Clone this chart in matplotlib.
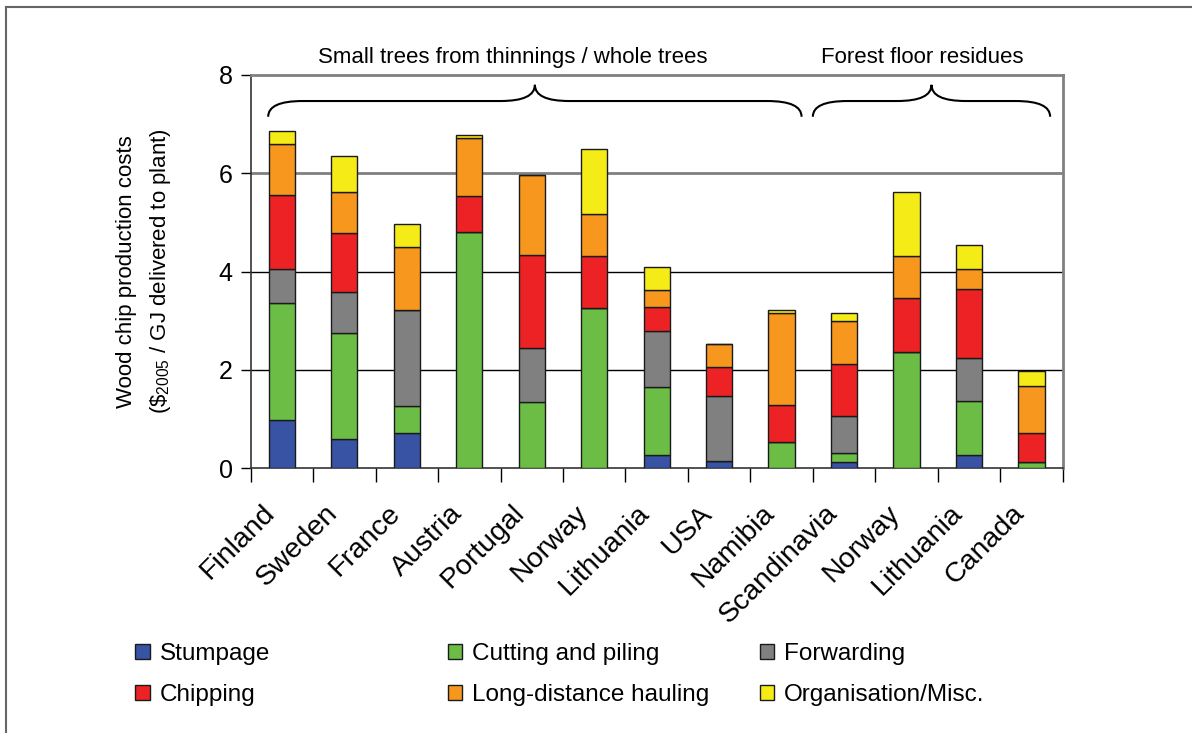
import matplotlib.pyplot as plt
import matplotlib.transforms as mtransforms
import numpy as np
from matplotlib.path import Path
from matplotlib.patches import PathPatch, Patch
from matplotlib.lines import Line2D

plt.rcParams["font.family"] = ["Liberation Sans", "DejaVu Sans"]
plt.rcParams["mathtext.fontset"] = "custom"
plt.rcParams["mathtext.rm"] = "Liberation Sans"
plt.rcParams["mathtext.it"] = "Liberation Sans:italic"

# Countries (two groups: thinnings / whole trees, then forest floor residues)
countries = ["Finland", "Sweden", "France", "Austria", "Portugal", "Norway",
             "Lithuania", "USA", "Namibia", "Scandinavia", "Norway",
             "Lithuania", "Canada"]

# Cost components ($2005 / GJ), stacked bottom to top
stumpage = [0.97, 0.59, 0.71, 0.00, 0.00, 0.00, 0.27, 0.15, 0.00, 0.12, 0.00, 0.27, 0.00]
cutting = [2.39, 2.15, 0.56, 4.80, 1.34, 3.25, 1.38, 0.00, 0.52, 0.19, 2.37, 1.10, 0.12]
forwarding = [0.69, 0.85, 1.94, 0.00, 1.10, 0.00, 1.13, 1.31, 0.00, 0.75, 0.00, 0.87, 0.00]
chipping = [1.50, 1.19, 0.00, 0.73, 1.89, 1.06, 0.49, 0.60, 0.76, 1.06, 1.09, 1.41, 0.59]
hauling = [1.04, 0.83, 1.29, 1.18, 1.63, 0.87, 0.36, 0.47, 1.88, 0.87, 0.85, 0.40, 0.96]
organisation = [0.28, 0.75, 0.47, 0.07, 0.00, 1.32, 0.46, 0.00, 0.06, 0.17, 1.31, 0.48, 0.30]

series = [
    ("Stumpage", stumpage, "#3953A4"),
    ("Cutting and piling", cutting, "#6BBD45"),
    ("Forwarding", forwarding, "#808080"),
    ("Chipping", chipping, "#ED2224"),
    ("Long-distance hauling", hauling, "#F7971D"),
    ("Organisation/Misc.", organisation, "#F5EB17"),
]

fig = plt.figure(figsize=(11.92, 7.33), dpi=100)
ax = fig.add_axes([0.2103, 0.3615, 0.6812, 0.5362])

x = np.arange(len(countries))
bottom = np.zeros(len(countries))
handles = {}
for name, vals, color in series:
    vals = np.array(vals)
    ax.bar(x, vals, width=0.42, bottom=bottom, color=color,
           edgecolor="#1a1a1a", linewidth=1.0, zorder=3)
    handles[name] = Patch(facecolor=color, edgecolor="#1a1a1a", linewidth=1.0)
    bottom += vals

ax.set_xlim(-0.5, len(countries) - 0.5)
ax.set_ylim(0, 8)
ax.set_yticks([0, 2, 4, 6, 8])
ax.tick_params(axis="y", labelsize=18, length=7, width=1, direction="out", pad=6)

# horizontal grid lines
for yv in [2, 4, 6]:
    ax.axhline(yv, color="#808080" if yv >= 6 else "black",
               lw=2 if yv >= 6 else 1, zorder=1)

ax.set_xticks(x)
ax.set_xticklabels(countries, rotation=45, ha="right", va="top",
                   rotation_mode="anchor", fontsize=20.5)
ax.tick_params(axis="x", length=0, pad=23)
shift = mtransforms.ScaledTranslation(-20 / 100, 0, fig.dpi_scale_trans)
for lbl in ax.get_xticklabels():
    lbl.set_transform(lbl.get_transform() + shift)
ax.set_xticks(np.arange(-0.5, len(countries), 1.0), minor=True)
ax.tick_params(axis="x", which="minor", length=10, width=1, direction="out")

for side in ["left", "bottom"]:
    ax.spines[side].set_color("#333333")
    ax.spines[side].set_linewidth(1.2)
for side in ["top", "right"]:
    ax.spines[side].set_color("#808080")
    ax.spines[side].set_linewidth(2)

ax.set_ylabel("Wood chip production costs\n(\\$$_{2005}$ / GJ delivered to plant)",
              fontsize=16, linespacing=1.6, labelpad=33)


# curly braces over the groups
def brace(ax, x0, x1, xm, ybot, yflat, ytop, rx):
    verts = [(x0, ybot), (x0, yflat), (x0 + rx, yflat),
             (xm - rx, yflat), (xm, yflat), (xm, ytop),
             (xm, yflat), (xm + rx, yflat),
             (x1 - rx, yflat), (x1, yflat), (x1, ybot)]
    codes = [Path.MOVETO, Path.CURVE3, Path.CURVE3,
             Path.LINETO, Path.CURVE3, Path.CURVE3,
             Path.CURVE3, Path.CURVE3,
             Path.LINETO, Path.CURVE3, Path.CURVE3]
    ax.add_patch(PathPatch(Path(verts, codes), fill=False, lw=1.5,
                           edgecolor="black", clip_on=False, zorder=4))


brace(ax, -0.22, 8.32, 4.05, 7.15, 7.47, 7.8, 0.55)
brace(ax, 8.5, 12.3, 10.4, 7.15, 7.47, 7.8, 0.55)

ax.text(3.7, 8.36, "Small trees from thinnings / whole trees", fontsize=16,
        ha="center", va="center", clip_on=False)
ax.text(10.25, 8.36, "Forest floor residues", fontsize=16,
        ha="center", va="center", clip_on=False)

# legend in three columns
columns = [["Stumpage", "Chipping"],
           ["Cutting and piling", "Long-distance hauling"],
           ["Forwarding", "Organisation/Misc."]]
col_x = [0.1135, 0.3755, 0.6375]
for cx, names in zip(col_x, columns):
    fig.legend([handles[n] for n in names], names, loc="upper left",
               bbox_to_anchor=(cx, 0.123), frameon=False, fontsize=17.5,
               handlelength=0.6, handleheight=0.6, handletextpad=0.4,
               labelspacing=0.8, borderpad=0, borderaxespad=0)

# outer frame (top and left edges)
fig.add_artist(Line2D([0.005, 1.0], [0.990, 0.990], color="#666666", lw=1.5,
                      transform=fig.transFigure))
fig.add_artist(Line2D([0.005, 0.005], [0.0, 0.990], color="#666666", lw=1.5,
                      transform=fig.transFigure))

fig.savefig("out.png", dpi=100)
